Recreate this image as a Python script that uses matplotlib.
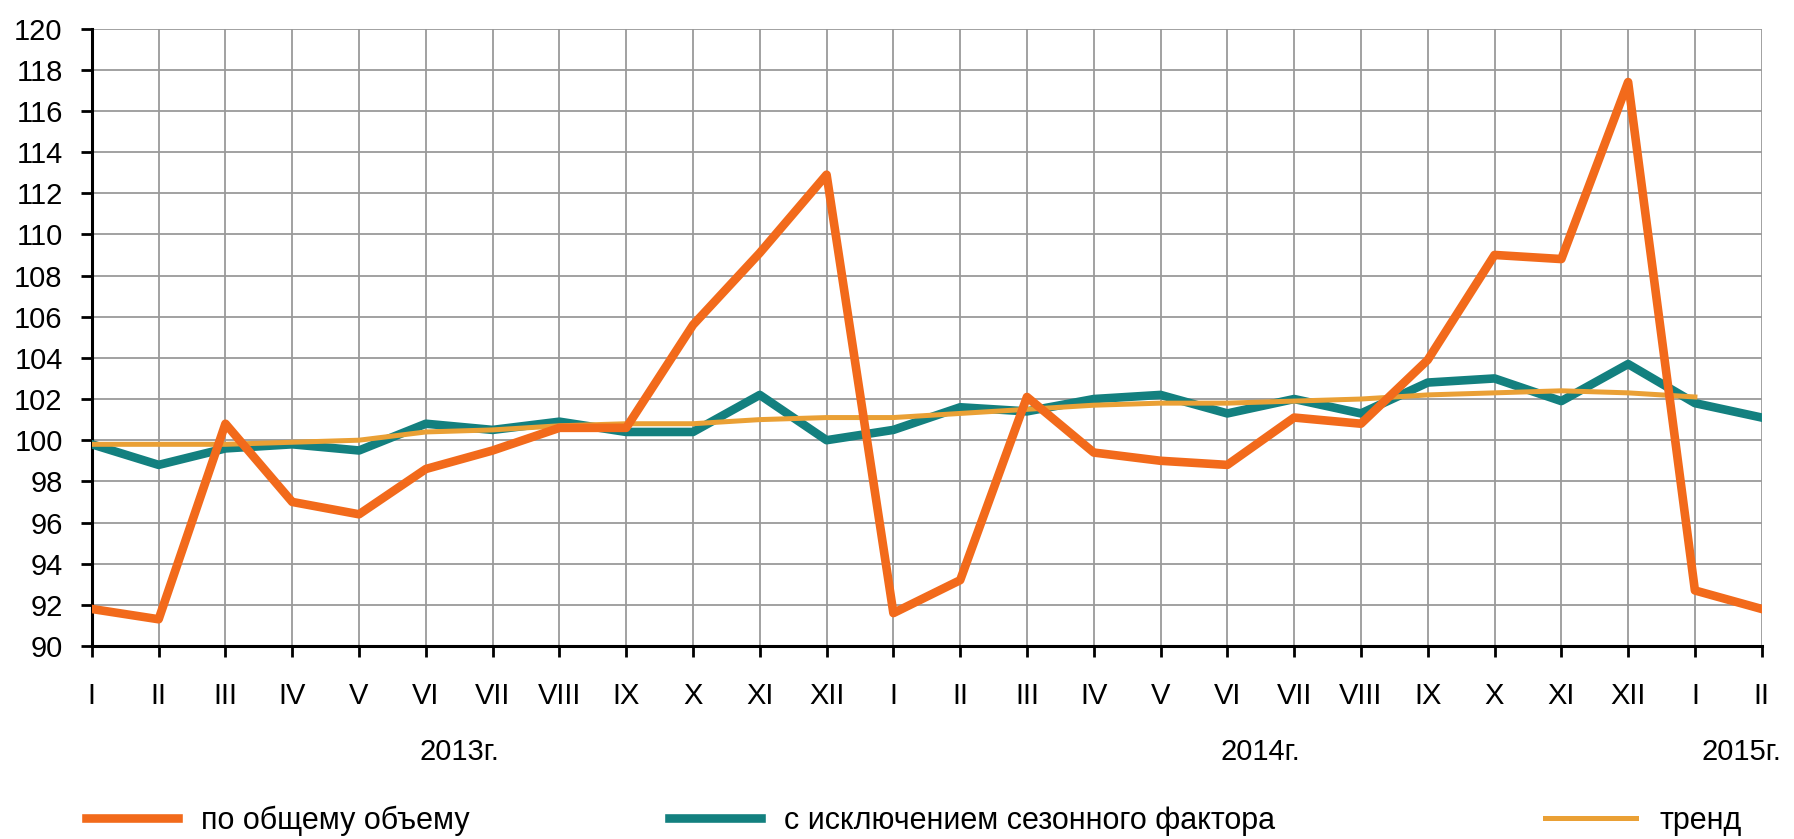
import matplotlib
matplotlib.use("Agg")
import matplotlib.pyplot as plt

plt.rcParams["font.family"] = ["Liberation Sans", "DejaVu Sans"]

# months: I 2013 ... XII 2014, I-II 2015
months = ["I", "II", "III", "IV", "V", "VI", "VII", "VIII", "IX", "X", "XI", "XII",
          "I", "II", "III", "IV", "V", "VI", "VII", "VIII", "IX", "X", "XI", "XII",
          "I", "II"]
years = ["2013г.", "2014г.", "2015г."]
year_pos = [5.5, 17.5, 24.7]

total = [91.8, 91.3, 100.8, 97.0, 96.4, 98.6, 99.5, 100.6, 100.6, 105.6, 109.1, 112.9,
         91.6, 93.2, 102.1, 99.4, 99.0, 98.8, 101.1, 100.8, 103.9, 109.0, 108.8, 117.4,
         92.7, 91.8]
seasonal = [99.8, 98.8, 99.6, 99.8, 99.5, 100.8, 100.5, 100.9, 100.4, 100.4, 102.2, 100.0,
            100.5, 101.6, 101.4, 102.0, 102.2, 101.3, 102.0, 101.3, 102.8, 103.0, 101.9, 103.7,
            101.8, 101.1]
trend = [99.8, 99.8, 99.8, 99.9, 100.0, 100.4, 100.5, 100.7, 100.8, 100.8, 101.0, 101.1,
         101.1, 101.3, 101.5, 101.7, 101.8, 101.8, 101.9, 102.0, 102.2, 102.3, 102.4, 102.3,
         102.1]

labels = ["по общему объему", "с исключением сезонного фактора", "тренд"]

fig = plt.figure(figsize=(17.94, 8.39), dpi=100)
ax = fig.add_axes([0.0512, 0.230, 0.9308, 0.736])

x = list(range(len(months)))
l_seas, = ax.plot(x, seasonal, color="#13807f", lw=6.2, zorder=3)
l_trend, = ax.plot(x[:len(trend)], trend, color="#eaa035", lw=3.6, zorder=4)
l_total, = ax.plot(x, total, color="#f26a1b", lw=6.2, zorder=5)

ax.set_xlim(0, len(months) - 1)
ax.set_ylim(90, 120)
ax.set_yticks(range(90, 121, 2))
ax.set_xticks(x)
ax.set_xticklabels(months)
ax.grid(True, color="#9a9a9a", lw=1.3)
ax.set_axisbelow(True)

for s in ["top", "right"]:
    ax.spines[s].set_visible(False)
for s in ["left", "bottom"]:
    ax.spines[s].set_linewidth(2.2)
ax.tick_params(axis="both", length=8, width=2, labelsize=21, color="black")
ax.tick_params(axis="x", pad=18)
ax.tick_params(axis="y", pad=13)

for yr, pos in zip(years, year_pos):
    ax.text(pos, -0.172, yr, transform=ax.get_xaxis_transform(), ha="center", va="center",
            fontsize=21)

# legend entries sit at fixed spots along the bottom
for h, lab, x0 in zip([l_total, l_seas, l_trend], labels, [0.048, 0.373, 0.861]):
    fig.legend([h], [lab], loc="center left", bbox_to_anchor=(x0, 0.022), frameon=False,
               fontsize=22, handlelength=3.0, handletextpad=0.75, borderpad=0,
               borderaxespad=0)

fig.savefig("out.png", dpi=100)
